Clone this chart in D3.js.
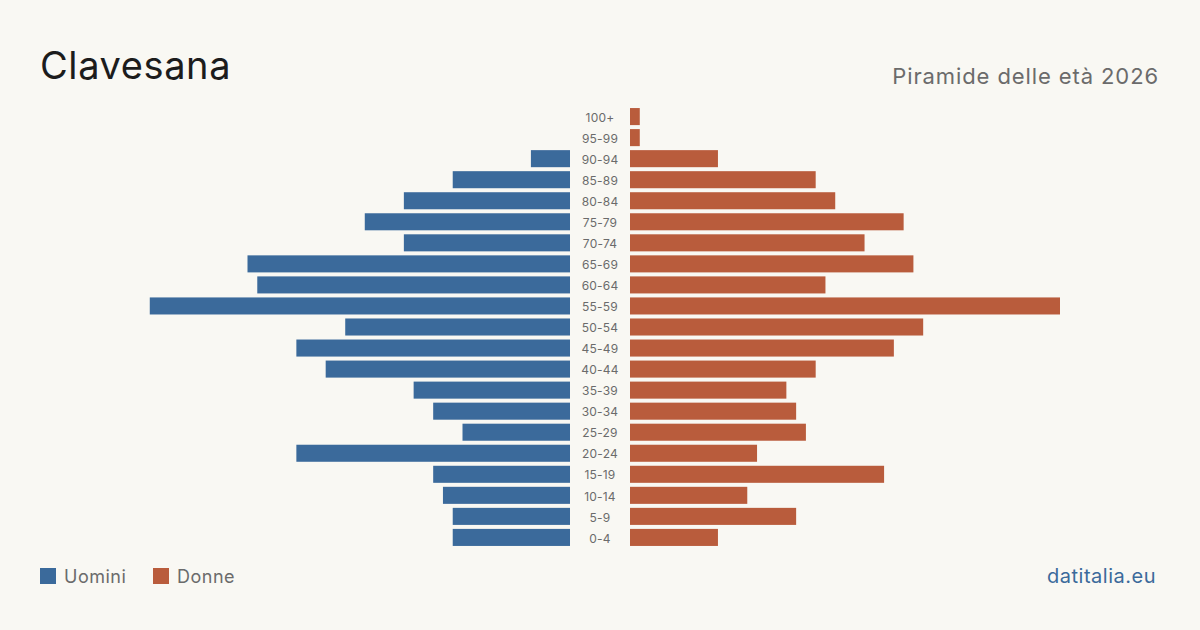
<!DOCTYPE html>
<html>
<head>
<meta charset="utf-8">
<title>Clavesana - Piramide delle età 2026</title>
<style>
  html, body { margin: 0; padding: 0; background: #f9f8f3; }
  svg { display: block; font-family: Inter, "Noto Sans", sans-serif; }
</style>
<script src="https://cdn.jsdelivr.net/npm/d3@7"></script>
</head>
<body>
<div id="chart"></div>
<script>
// age classes, top to bottom
var ageClasses = ["100+", "95-99", "90-94", "85-89", "80-84", "75-79", "70-74", "65-69",
  "60-64", "55-59", "50-54", "45-49", "40-44", "35-39", "30-34", "25-29",
  "20-24", "15-19", "10-14", "5-9", "0-4"];
var uomini = [0, 0, 4, 12, 17, 21, 17, 33, 32, 43, 23, 28, 25, 16, 14, 11, 28, 14, 13, 12, 12];
var donne  = [1, 1, 9, 19, 21, 28, 24, 29, 20, 44, 30, 27, 19, 16, 17, 18, 13, 26, 12, 17, 9];

var W = 1200, H = 630;
var blue = "#3b6a9b", orange = "#b95c3c";

var svg = d3.select("#chart").append("svg")
    .attr("width", W).attr("height", H);

svg.append("rect").attr("width", W).attr("height", H).attr("fill", "#f9f8f3");

// title and subtitle
svg.append("text")
    .attr("x", 40).attr("y", 79)
    .attr("font-size", 38).attr("letter-spacing", 0.6).attr("fill", "#1c1c1c")
    .text("Clavesana");
svg.append("text")
    .attr("x", 1159).attr("y", 84)
    .attr("text-anchor", "end")
    .attr("font-size", 22).attr("letter-spacing", 0.9).attr("fill", "#6b6b6b")
    .text("Piramide delle età 2026");

var maxVal = d3.max(uomini.concat(donne));
var centerLeft = 570, centerRight = 630;

var y = d3.scaleBand()
    .domain(ageClasses)
    .range([107, 547])
    .paddingInner(0.19)
    .paddingOuter(0.05);

var xL = d3.scaleLinear().domain([0, maxVal]).range([centerLeft, centerLeft - 430]);
var xR = d3.scaleLinear().domain([0, maxVal]).range([centerRight, centerRight + 430]);

var rows = ageClasses.map(function (a, i) { return { age: a, m: uomini[i], f: donne[i] }; });

svg.append("g").selectAll("rect")
    .data(rows)
    .join("rect")
    .attr("x", function (d) { return xL(d.m); })
    .attr("y", function (d) { return y(d.age); })
    .attr("width", function (d) { return centerLeft - xL(d.m); })
    .attr("height", y.bandwidth())
    .attr("fill", blue);

svg.append("g").selectAll("rect")
    .data(rows)
    .join("rect")
    .attr("x", centerRight)
    .attr("y", function (d) { return y(d.age); })
    .attr("width", function (d) { return xR(d.f) - centerRight; })
    .attr("height", y.bandwidth())
    .attr("fill", orange);

// age labels in the middle
svg.append("g").selectAll("text")
    .data(rows)
    .join("text")
    .attr("x", (centerLeft + centerRight) / 2)
    .attr("y", function (d) { return y(d.age) + y.bandwidth() / 2 + 1; })
    .attr("dy", "0.35em")
    .attr("text-anchor", "middle")
    .attr("font-size", 12).attr("letter-spacing", 0.2).attr("fill", "#6b6b6b")
    .text(function (d) { return d.age; });

// legend
var legend = [{ label: "Uomini", color: blue, x: 40 }, { label: "Donne", color: orange, x: 153 }];
var lg = svg.append("g").selectAll("g").data(legend).join("g");
lg.append("rect")
    .attr("x", function (d) { return d.x; }).attr("y", 568)
    .attr("width", 16).attr("height", 16)
    .attr("fill", function (d) { return d.color; });
lg.append("text")
    .attr("x", function (d) { return d.x + 24; }).attr("y", 583)
    .attr("font-size", 18).attr("letter-spacing", 0.5).attr("fill", "#6b6b6b")
    .text(function (d) { return d.label; });

svg.append("text")
    .attr("x", 1156).attr("y", 583)
    .attr("text-anchor", "end")
    .attr("font-size", 20).attr("letter-spacing", 0.5).attr("fill", "#3b6a9b")
    .text("datitalia.eu");
</script>
</body>
</html>
